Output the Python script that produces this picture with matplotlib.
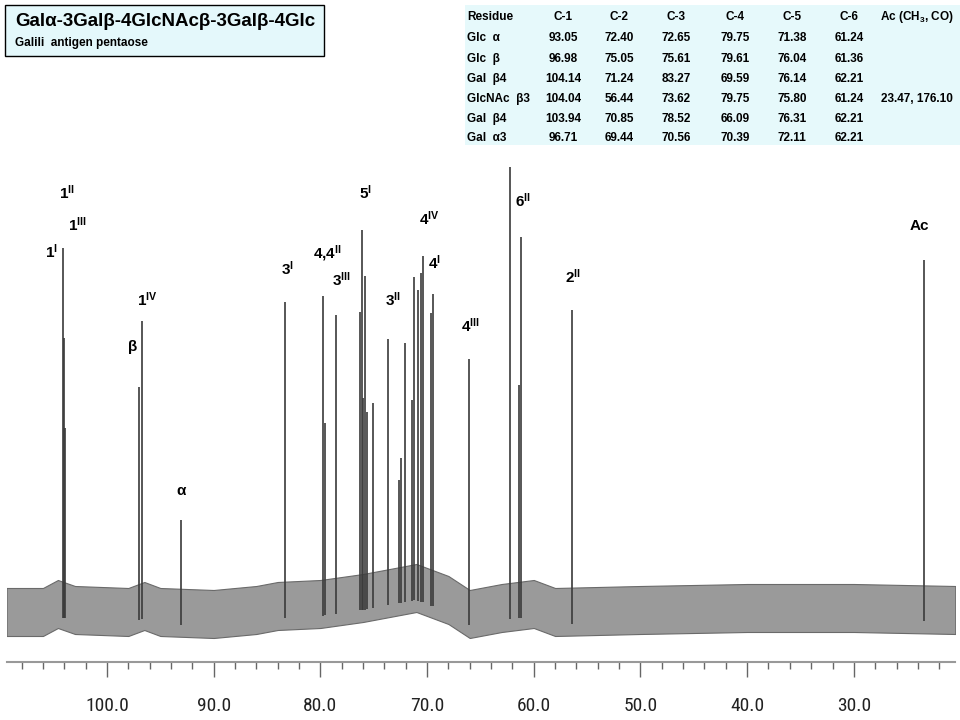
#Purpose: 13C NMR spectrum of Galili antigen pentaose with shift table
import numpy as np
import matplotlib
matplotlib.use("Agg")
from matplotlib import pyplot as plt
from matplotlib import font_manager
from matplotlib.ticker import MultipleLocator, FormatStrFormatter

plt.rcParams['font.family'] = ['Liberation Sans', 'DejaVu Sans']
plt.rcParams['mathtext.fontset'] = 'custom'
plt.rcParams['mathtext.rm'] = 'Liberation Sans:bold'
plt.rcParams['mathtext.it'] = 'Liberation Sans:bold'
plt.rcParams['mathtext.bf'] = 'Liberation Sans:bold'

#peak list: chemical shift (ppm) and intensity above baseline (arbitrary units)
peak_ppm = [104.14, 104.04, 103.94, 96.98, 96.71, 93.05, 83.27, 79.75, 79.61,
            78.52, 76.31, 76.14, 76.04, 75.80, 75.61, 75.05, 73.62, 72.65,
            72.40, 72.11, 71.38, 71.24, 70.85, 70.56, 70.39, 69.59, 69.44,
            66.09, 62.21, 61.36, 61.24, 56.44, 23.47]
peak_int = [362, 272, 182, 223, 289, 90, 308, 314, 187,
            295, 298, 380, 212, 334, 198, 207, 271, 130,
            152, 267, 210, 333, 320, 337, 354, 297, 316,
            251, 443, 225, 373, 300, 350]

#baseline drift and noise half-width
base_ppm = [109.4, 106.0, 104.6, 103.0, 98.0, 96.5, 95.0, 90.0, 86.0, 84.0, 80.0,
            76.0, 73.0, 71.0, 68.0, 66.0, 63.0, 60.0, 58.0, 50.0, 40.0, 30.0, 20.5]
base_lvl = [-2, -2, 6, 0, -2, 4, -2, -4, 0, 4, 6,
            12, 18, 22, 10, -4, 2, 6, -2, 0, 2, 2, 0]
noise_hw = 24

#peak assignment labels
label_txt = [r'1$^{\mathrm{II}}$', r'1$^{\mathrm{III}}$', r'1$^{\mathrm{I}}$', r'1$^{\mathrm{IV}}$',
             'β', 'α', r'3$^{\mathrm{I}}$', r'4,4$^{\mathrm{II}}$', r'3$^{\mathrm{III}}$',
             r'5$^{\mathrm{I}}$', r'3$^{\mathrm{II}}$', r'4$^{\mathrm{IV}}$', r'4$^{\mathrm{I}}$',
             r'4$^{\mathrm{III}}$', r'6$^{\mathrm{II}}$', r'2$^{\mathrm{II}}$', 'Ac']
label_ppm = [103.75, 102.81, 105.25, 96.25, 97.56, 93.06, 83.13, 79.38, 78.07,
             75.82, 73.20, 69.82, 69.35, 65.98, 61.01, 56.33, 23.90]
label_y = [417, 385, 358, 310, 263, 119, 341, 356, 330,
           417, 310, 391, 347, 284, 409, 333, 384]

#shift table
table_head = ['Residue', 'C-1', 'C-2', 'C-3', 'C-4', 'C-5', 'C-6', r'Ac (CH$_3$, CO)']
residues = ['Glc  α', 'Glc  β', 'Gal  β4', 'GlcNAc  β3', 'Gal  β4', 'Gal  α3']
shifts = [['93.05', '72.40', '72.65', '79.75', '71.38', '61.24', ''],
          ['96.98', '75.05', '75.61', '79.61', '76.04', '61.36', ''],
          ['104.14', '71.24', '83.27', '69.59', '76.14', '62.21', ''],
          ['104.04', '56.44', '73.62', '79.75', '75.80', '61.24', '23.47, 176.10'],
          ['103.94', '70.85', '78.52', '66.09', '76.31', '62.21', ''],
          ['96.71', '69.44', '70.56', '70.39', '72.11', '62.21', '']]

#narrow face for the ppm scale if one is installed
names = set(f.name for f in font_manager.fontManager.ttflist)
tick_font = 'Liberation Sans'
tick_size = 13
for cand in ['Liberation Sans Narrow', 'Roboto Condensed', 'Open Sans Condensed', 'DejaVu Sans Condensed']:
    if cand in names:
        tick_font = cand
        tick_size = 14
        break

fig = plt.figure(figsize=(9.6, 7.2), dpi=100)
ax = fig.add_axes([7/960, 1 - 662/720, 948/960, 502/720])

#noise band and peaks
bl = np.array(base_lvl, dtype=float)
ax.fill_between(base_ppm, bl - noise_hw, bl + noise_hw, color='#9a9a9a', lw=0.8, ec='#6a6a6a')
base_at_peak = np.interp(peak_ppm, base_ppm[::-1], bl[::-1])
ax.vlines(peak_ppm, base_at_peak - noise_hw * 0.5, peak_int, color='#3a3a3a', lw=1.2)

for t, xx, yy in zip(label_txt, label_ppm, label_y):
    ax.text(xx, yy, t, fontsize=11, fontweight='bold', ha='center', va='center')

ax.set_xlim(109.37, 20.52)
ax.set_ylim(-52, 450)
for s in ['top', 'left', 'right']:
    ax.spines[s].set_visible(False)
ax.spines['bottom'].set_color('#999999')
ax.spines['bottom'].set_linewidth(1.5)
ax.set_yticks([])
ax.xaxis.set_major_locator(MultipleLocator(10))
ax.xaxis.set_minor_locator(MultipleLocator(2))
ax.xaxis.set_major_formatter(FormatStrFormatter('%.1f'))
ax.tick_params(axis='x', which='major', length=11, width=1, color='#666666', pad=14,
               labelsize=tick_size, labelcolor='#222222', labelfontfamily=tick_font)
ax.tick_params(axis='x', which='minor', length=5, width=1, color='#666666')

#title box
fig.patches.append(plt.Rectangle((5/960, 1 - 56/720), 319/960, 51/720, transform=fig.transFigure,
                                 fc='#e4f8fb', ec='black', lw=1))
fig.text(15/960, 1 - 22/720, 'Galα-3Galβ-4GlcNAcβ-3Galβ-4Glc', fontsize=13.5,
         fontweight='bold', va='center', ha='left')
fig.text(15/960, 1 - 43/720, 'Galili  antigen pentaose', fontsize=8.5,
         fontweight='bold', va='center', ha='left')

#table
fig.patches.append(plt.Rectangle((465/960, 1 - 145/720), 495/960, 140/720, transform=fig.transFigure,
                                 fc='#e6f9fb', ec='none'))
col_x = [467, 563, 619, 676, 735, 792, 849, 917]
row_y = [17, 38, 59, 79, 99, 119, 138]
for j, h in enumerate(table_head):
    fig.text(col_x[j]/960, 1 - row_y[0]/720, h, fontsize=8.5, fontweight='bold', va='center',
             ha='left' if j == 0 else 'center')
for i, r in enumerate(residues):
    yy = 1 - row_y[i + 1]/720
    fig.text(col_x[0]/960, yy, r, fontsize=8.5, fontweight='bold', va='center', ha='left')
    for j, v in enumerate(shifts[i]):
        fig.text(col_x[j + 1]/960, yy, v, fontsize=8.5, fontweight='bold', va='center', ha='center')

fig.savefig('out.png', dpi=100)
